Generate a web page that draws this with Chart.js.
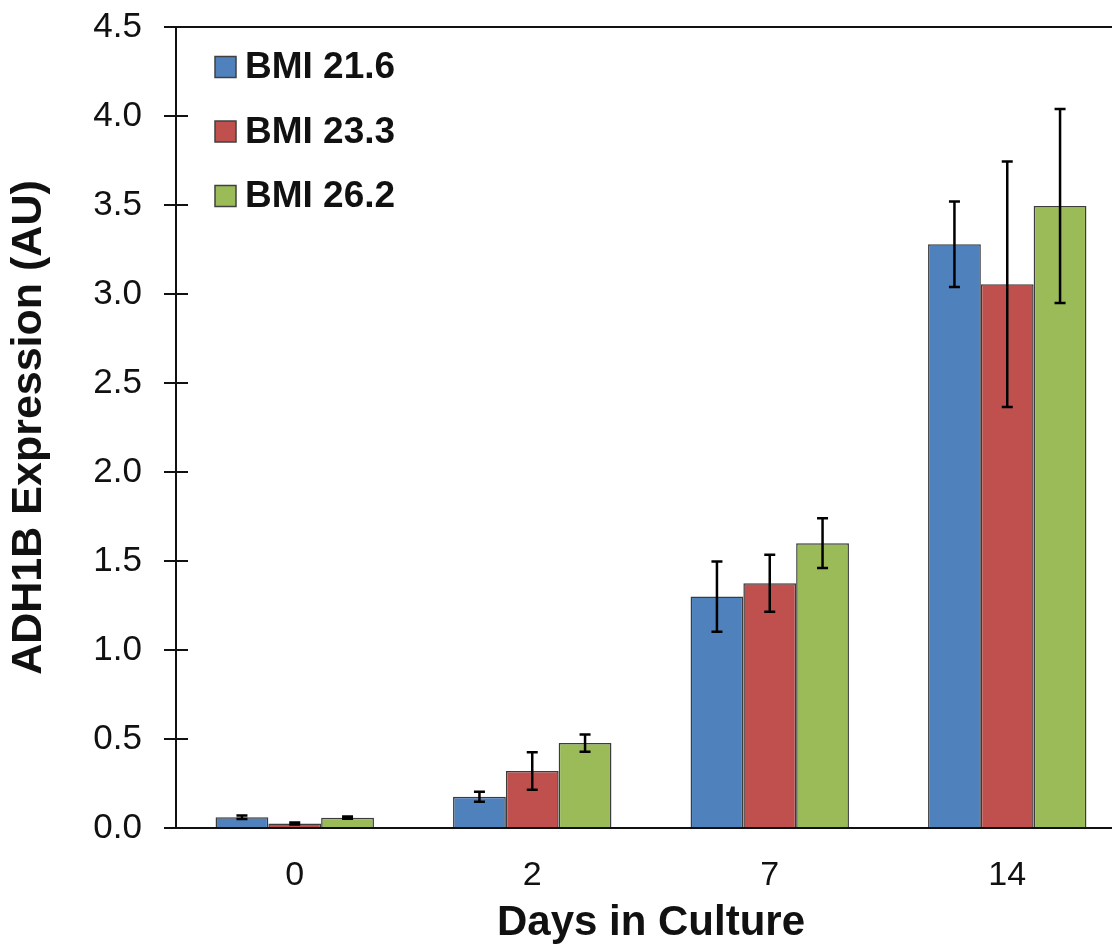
<!DOCTYPE html>
<html>
<head>
<meta charset="utf-8">
<script src="https://cdn.jsdelivr.net/npm/chart.js@4/dist/chart.umd.min.js"></script>
<style>
html, body { margin: 0; padding: 0; background: #fff; overflow: hidden; }
#wrap { width: 1140px; height: 950px; }
</style>
</head>
<body>
<div id="wrap"><canvas id="c" width="1140" height="950"></canvas></div>
<script>
const categories = ['0', '2', '7', '14'];
const seriesNames = ['BMI 21.6', 'BMI 23.3', 'BMI 26.2'];
const bmi216 = [0.06, 0.175, 1.30, 3.28];
const bmi216Err = [0.01, 0.028, 0.197, 0.24];
const bmi233 = [0.025, 0.32, 1.375, 3.055];
const bmi233Err = [0.006, 0.105, 0.16, 0.69];
const bmi262 = [0.058, 0.477, 1.60, 3.495];
const bmi262Err = [0.006, 0.048, 0.14, 0.545];
const yTickLabels = ['0.0', '0.5', '1.0', '1.5', '2.0', '2.5', '3.0', '3.5', '4.0', '4.5'];
const colors = ['#4F81BD', '#C0504D', '#9BBB59'];
const errors = [bmi216Err, bmi233Err, bmi262Err];

const FONT = "'Liberation Sans', Arial, sans-serif";
const AXIS = '#111111';

const errorBars = {
  id: 'errorBars',
  afterDatasetsDraw(chart) {
    const ctx = chart.ctx;
    const y = chart.scales.y;
    ctx.save();
    ctx.strokeStyle = '#000';
    ctx.lineWidth = 2.5;
    chart.data.datasets.forEach((ds, di) => {
      const meta = chart.getDatasetMeta(di);
      meta.data.forEach((bar, i) => {
        const v = ds.data[i], e = errors[di][i];
        const yt = y.getPixelForValue(v + e);
        const yb = y.getPixelForValue(v - e);
        const x = bar.x;
        ctx.beginPath();
        ctx.moveTo(x, yt); ctx.lineTo(x, yb);
        ctx.moveTo(x - 5.5, yt); ctx.lineTo(x + 5.5, yt);
        ctx.moveTo(x - 5.5, yb); ctx.lineTo(x + 5.5, yb);
        ctx.stroke();
      });
    });
    ctx.restore();
  }
};

const frame = {
  id: 'frame',
  afterDraw(chart) {
    const ctx = chart.ctx;
    const a = chart.chartArea;
    const y = chart.scales.y;
    ctx.save();
    ctx.strokeStyle = AXIS;
    ctx.lineWidth = 2;
    y.ticks.forEach(t => {
      const py = Math.round(y.getPixelForValue(t.value));
      ctx.beginPath();
      ctx.moveTo(a.left, py);
      ctx.lineTo(a.left + 12, py);
      ctx.stroke();
    });
    ctx.beginPath();
    ctx.moveTo(a.left - 12, Math.round(a.top));
    ctx.lineTo(a.right, Math.round(a.top));
    ctx.stroke();
    // legend
    ctx.font = "bold 37px " + FONT;
    ctx.textBaseline = 'middle';
    ctx.textAlign = 'left';
    chart.data.datasets.forEach((ds, i) => {
      const cy = a.top + 40 + i * 64.5;
      ctx.fillStyle = ds.backgroundColor;
      ctx.fillRect(a.left + 39, cy - 10.5, 21, 21);
      ctx.lineWidth = 1.5;
      ctx.strokeStyle = '#404040';
      ctx.strokeRect(a.left + 39, cy - 10.5, 21, 21);
      ctx.fillStyle = '#111';
      ctx.fillText(ds.label, a.left + 69, cy + 1);
    });
    ctx.restore();
  }
};

new Chart(document.getElementById('c'), {
  type: 'bar',
  data: {
    labels: categories,
    datasets: [
      { label: seriesNames[0], data: bmi216, backgroundColor: colors[0] },
      { label: seriesNames[1], data: bmi233, backgroundColor: colors[1] },
      { label: seriesNames[2], data: bmi262, backgroundColor: colors[2] }
    ]
  },
  options: {
    responsive: false,
    animation: false,
    devicePixelRatio: 1,
    layout: { padding: { top: 27, right: 14, bottom: 0, left: 0 } },
    datasets: {
      bar: {
        categoryPercentage: 0.667,
        barPercentage: 1.0,
        borderColor: '#3c3c3c',
        borderWidth: 1.5
      }
    },
    plugins: {
      legend: { display: false },
      tooltip: { enabled: false },
      title: { display: false }
    },
    scales: {
      x: {
        grid: { display: false, drawTicks: false },
        border: { display: true, color: AXIS, width: 2 },
        ticks: {
          color: '#111',
          font: { family: FONT, size: 34 },
          padding: 27,
          maxRotation: 0
        },
        title: {
          display: true,
          text: 'Days in Culture',
          color: '#111',
          font: { family: FONT, size: 42, weight: 'bold' },
          padding: { top: 0, bottom: 1 }
        },
        afterFit(scale) { scale.height = 122; scale.paddingLeft = 0; scale.paddingRight = 0; }
      },
      y: {
        min: 0,
        max: 4.5,
        ticks: {
          stepSize: 0.5,
          color: '#111',
          font: { family: FONT, size: 35 },
          padding: 22,
          callback: (v, i) => yTickLabels[i]
        },
        grid: {
          display: true,
          drawOnChartArea: false,
          drawTicks: true,
          tickLength: 12,
          color: AXIS,
          lineWidth: 2
        },
        border: { display: true, color: AXIS, width: 2 },
        title: {
          display: true,
          text: 'ADH1B Expression (AU)',
          color: '#111',
          font: { family: FONT, size: 43, weight: 'bold' },
          padding: { top: 3, bottom: 0 }
        },
        afterFit(scale) { scale.width = 176; scale.paddingTop = 0; scale.paddingBottom = 0; }
      }
    }
  },
  plugins: [errorBars, frame]
});
</script>
</body>
</html>
